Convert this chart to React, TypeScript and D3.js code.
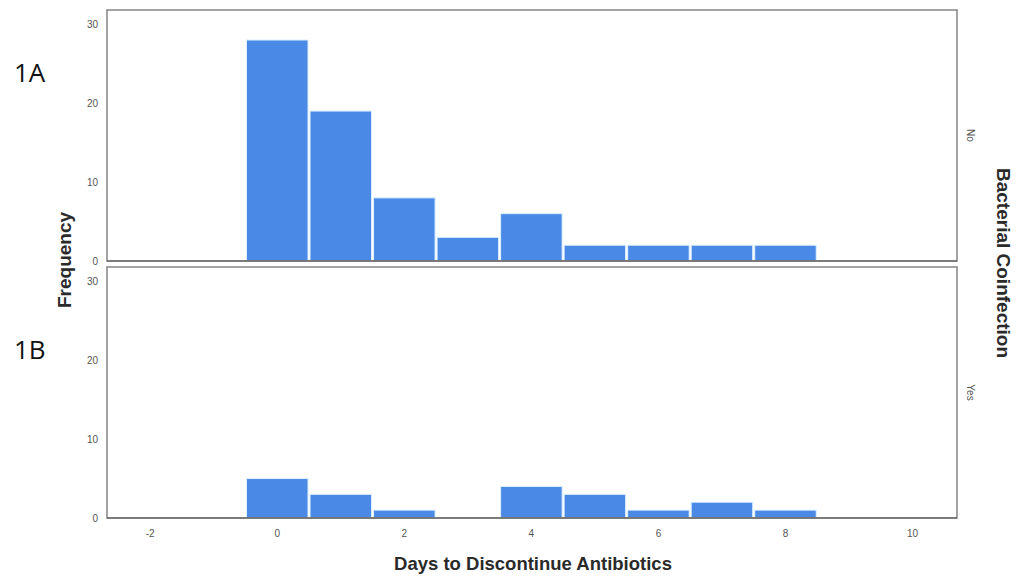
import * as d3 from "d3";

// bins: days (bin centre), width 1
const days = [0, 1, 2, 3, 4, 5, 6, 7, 8];
const countsNo = [28, 19, 8, 3, 6, 2, 2, 2, 2];
const countsYes = [5, 3, 1, 0, 4, 3, 1, 2, 1];
const xTicks = [-2, 0, 2, 4, 6, 8, 10];
const yTicks = [0, 10, 20, 30];
const panels = [
  { key: "No", label: "1A", counts: countsNo, top: 10, bottom: 261 },
  { key: "Yes", label: "1B", counts: countsYes, top: 267, bottom: 518 },
];

const W = 1030;
const H = 578;
const left = 107;
const right = 957;
const barColor = "#4a8ae6";
const font = "'Liberation Sans', Arial, sans-serif";

export default function App() {
  const x = d3.scaleLinear().domain([-2.68, 10.7]).range([left, right]);

  return (
    <div style={{ position: "absolute", left: 0, top: 0 }}>
      <svg width={W} height={H} style={{ display: "block", background: "#fff" }}>
        {panels.map((p) => {
          const y = d3.scaleLinear().domain([0, 31.8]).range([p.bottom, p.top]);
          return (
            <g key={p.key}>
              {p.counts.map((c, i) =>
                c > 0 ? (
                  <rect
                    key={i}
                    x={x(days[i] - 0.5) + 1}
                    y={y(c)}
                    width={x(days[i] + 0.5) - x(days[i] - 0.5) - 2}
                    height={y(0) - y(c)}
                    fill={barColor}
                    stroke="#dff0ff"
                    strokeWidth={1}
                  />
                ) : null
              )}
              <rect
                x={left}
                y={p.top}
                width={right - left}
                height={p.bottom - p.top}
                fill="none"
                stroke="#8c8c8c"
                strokeWidth={1.6}
              />
              <line x1={left} x2={right} y1={p.bottom} y2={p.bottom} stroke="#555" strokeWidth={1.2} />
              {yTicks.map((t) => (
                <text
                  key={t}
                  x={left - 9}
                  y={y(t)}
                  dy="0.35em"
                  textAnchor="end"
                  fontFamily={font}
                  fontSize={10}
                  fill="#555"
                >
                  {t}
                </text>
              ))}
              <text
                transform={`translate(${right + 10},${(p.top + p.bottom) / 2}) rotate(90)`}
                textAnchor="middle"
                fontFamily={font}
                fontSize={10}
                fill="#555"
              >
                {p.key}
              </text>
              <text
                x={14}
                y={p.key === "No" ? 82 : 359}
                fontFamily="'Open Sans', 'Liberation Sans', sans-serif"
                fontSize={26}
                fill="#111"
              >
                {p.label}
              </text>
            </g>
          );
        })}
        {xTicks.map((t) => (
          <text
            key={t}
            x={x(t)}
            y={537}
            textAnchor="middle"
            fontFamily={font}
            fontSize={10}
            fill="#555"
          >
            {t}
          </text>
        ))}
        <text
          x={533}
          y={570}
          textAnchor="middle"
          fontFamily={font}
          fontSize={18.5}
          fontWeight="bold"
          fill="#2a2a2a"
        >
          Days to Discontinue Antibiotics
        </text>
        <text
          transform={`translate(71,${260}) rotate(-90)`}
          textAnchor="middle"
          fontFamily={font}
          fontSize={19}
          fontWeight="bold"
          fill="#2a2a2a"
        >
          Frequency
        </text>
        <text
          transform={`translate(997,${263}) rotate(90)`}
          textAnchor="middle"
          fontFamily={font}
          fontSize={19}
          fontWeight="bold"
          fill="#2a2a2a"
        >
          Bacterial Coinfection
        </text>
      </svg>
    </div>
  );
}
